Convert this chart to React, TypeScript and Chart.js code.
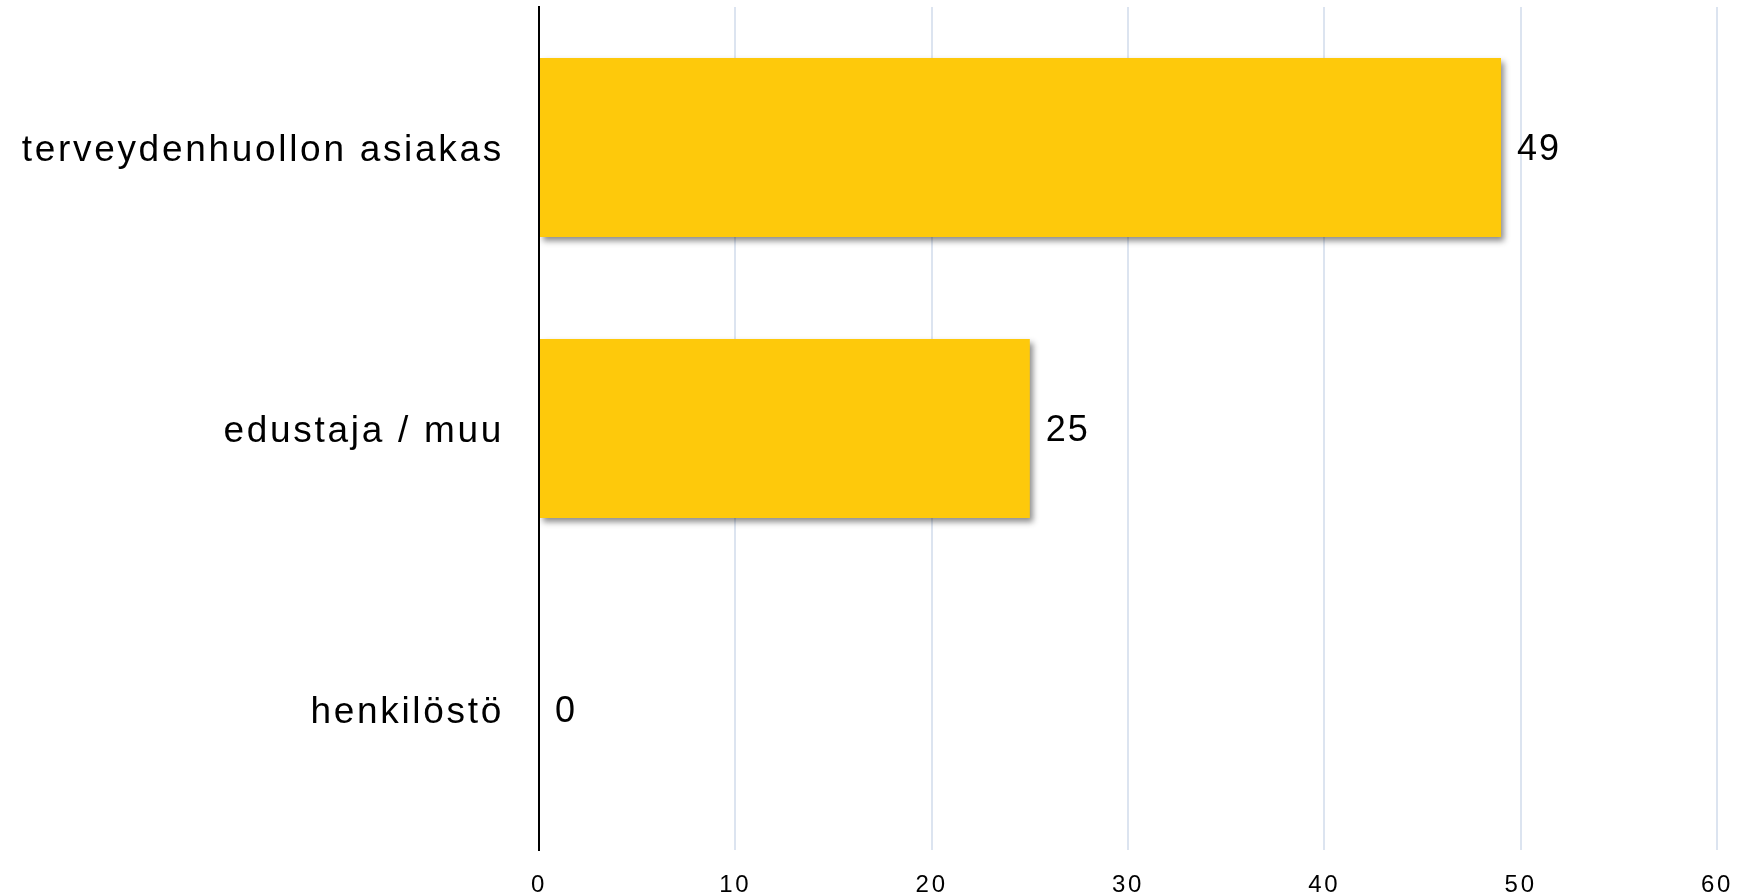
import React, { useEffect, useRef } from 'react';
import { Chart, registerables } from 'chart.js';

Chart.register(...registerables);

const categories = ['terveydenhuollon asiakas', 'edustaja / muu', 'henkilöstö'];
const values = [49, 25, 0];
const xTickValues = [0, 10, 20, 30, 40, 50, 60];

const FONT = '"Liberation Sans", Arial, sans-serif';
const BAR_COLOR = '#FEC90B';
const GRID_COLOR = '#DCE4F0';
const SPACING = '2.7px';

const spacingPlugin = {
  id: 'letterSpacing',
  beforeLayout(chart: any) {
    chart.ctx.letterSpacing = SPACING;
  },
  beforeDraw(chart: any) {
    chart.ctx.letterSpacing = SPACING;
  },
};

const shadowAndLabels = {
  id: 'shadowAndLabels',
  beforeDatasetsDraw(chart: any) {
    const c = chart.ctx;
    c.save();
    c.shadowColor = 'rgba(0,0,0,0.45)';
    c.shadowBlur = 6;
    c.shadowOffsetX = 3;
    c.shadowOffsetY = 4;
  },
  afterDatasetsDraw(chart: any) {
    const c = chart.ctx;
    c.restore();
    const meta = chart.getDatasetMeta(0);
    c.save();
    c.letterSpacing = '2px';
    c.font = `36px ${FONT}`;
    c.fillStyle = '#000';
    c.textAlign = 'left';
    c.textBaseline = 'middle';
    meta.data.forEach((bar: any, i: number) => {
      c.fillText(String(values[i]), bar.x + 16, bar.y + 3);
    });
    c.restore();
  },
};

const zeroPadding = (s: any) => {
  s.paddingTop = 0;
  s.paddingBottom = 0;
  s.paddingLeft = 0;
  s.paddingRight = 0;
};

export default function App() {
  const ref = useRef<HTMLCanvasElement | null>(null);
  useEffect(() => {
    if (!ref.current) return;
    const chart = new Chart(ref.current, {
      type: 'bar',
      data: {
        labels: categories,
        datasets: [
          {
            data: values,
            backgroundColor: BAR_COLOR,
            borderWidth: 0,
            barPercentage: 0.637,
            categoryPercentage: 1,
          },
        ],
      },
      options: {
        indexAxis: 'y',
        animation: false,
        responsive: true,
        maintainAspectRatio: false,
        layout: { padding: { top: 7, right: 23, left: 0, bottom: 0 } },
        plugins: {
          legend: { display: false },
          tooltip: { enabled: false },
        },
        scales: {
          x: {
            type: 'linear',
            min: xTickValues[0],
            max: xTickValues[xTickValues.length - 1],
            ticks: {
              stepSize: xTickValues[1] - xTickValues[0],
              font: { family: FONT, size: 24 },
              color: '#000',
              padding: 21,
              maxRotation: 0,
            },
            grid: {
              color: (ctx: any) => (ctx.tick && ctx.tick.value === 0 ? 'rgba(0,0,0,0)' : GRID_COLOR),
              lineWidth: 2,
              drawTicks: false,
            },
            border: { display: false },
            afterFit: (s: any) => {
              s.height = 46;
              zeroPadding(s);
            },
          },
          y: {
            type: 'category',
            ticks: {
              font: { family: FONT, size: 37 },
              color: '#000',
              padding: 35,
              labelOffset: 3,
            },
            grid: { display: false, drawTicks: false },
            border: { display: true, color: '#000', width: 2 },
            afterFit: (s: any) => {
              s.width = 539;
              zeroPadding(s);
            },
          },
        },
      },
      plugins: [spacingPlugin, shadowAndLabels],
    });
    return () => chart.destroy();
  }, []);
  return (
    <div style={{ position: 'fixed', left: 0, top: 0, width: 1740, height: 896, background: '#fff' }}>
      <canvas ref={ref} />
    </div>
  );
}
